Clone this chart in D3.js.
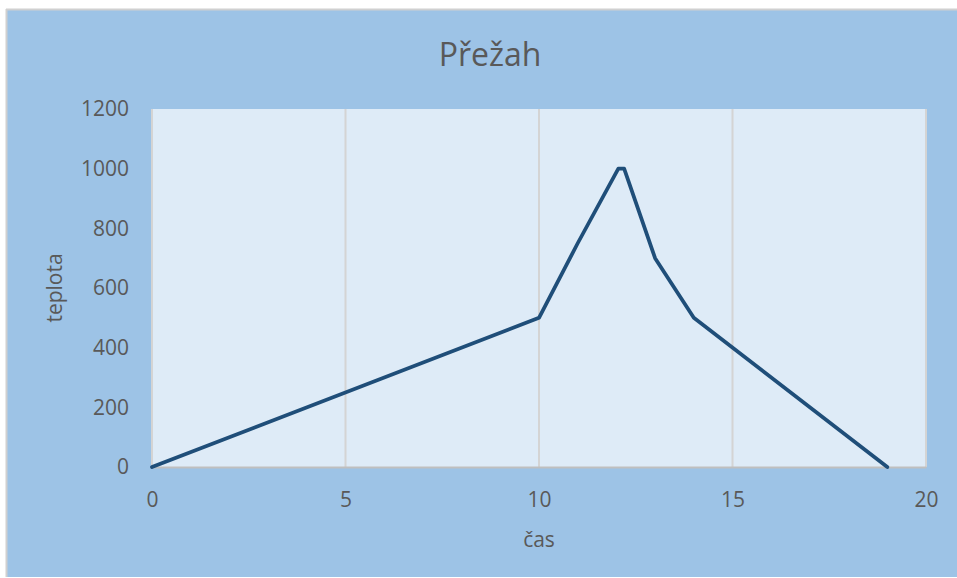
<!doctype html>
<html lang="cs">
<head>
    <meta charset="UTF-8">
    <title>Přežah</title>
    <style>
        body { margin: 0; background: #ffffff; }
        text { font-family: "Open Sans", sans-serif; fill: #595959; }
    </style>
</head>
<body>
<div class="chart"></div>

<script src="https://cdn.jsdelivr.net/npm/d3@7"></script>
<script>
	// data
	const cas = [0, 10, 11, 12.05, 12.2, 13, 14, 19]
	const teplota = [0, 500, 750, 1000, 1000, 700, 500, 0]
	const xTicks = [0, 5, 10, 15, 20]
	const yTicks = [0, 200, 400, 600, 800, 1000, 1200]

	const dimensions = {
		width: 957,
		height: 578,
		left: 152,
		right: 926,
		top: 109,
		bottom: 467
	}

	const dataset = cas.map((c, i) => ({ x: c, y: teplota[i] }))

	const svg = d3.select('.chart')
		.append('svg')
		.attr('width', dimensions.width)
		.attr('height', dimensions.height)

	// chart area
	svg.append('rect')
		.attr('x', 7)
		.attr('y', 10)
		.attr('width', dimensions.width - 7)
		.attr('height', 567)
		.attr('fill', '#9dc3e6')
	svg.append('line')
		.attr('x1', 6).attr('x2', dimensions.width)
		.attr('y1', 9.5).attr('y2', 9.5)
		.attr('stroke', '#d0d0d0')
		.attr('stroke-width', 2)
	svg.append('line')
		.attr('x1', 6.5).attr('x2', 6.5)
		.attr('y1', 9).attr('y2', 577)
		.attr('stroke', '#d0d0d0')
		.attr('stroke-width', 2)

	// plot area
	svg.append('rect')
		.attr('x', dimensions.left)
		.attr('y', dimensions.top)
		.attr('width', dimensions.right - dimensions.left)
		.attr('height', dimensions.bottom - dimensions.top)
		.attr('fill', '#deebf7')

	const xScale = d3.scaleLinear()
		.domain([0, 20])
		.range([dimensions.left, dimensions.right])
	const yScale = d3.scaleLinear()
		.domain([0, 1200])
		.range([dimensions.bottom, dimensions.top])

	// vertical gridlines
	svg.append('g')
		.selectAll('line')
		.data(xTicks)
		.enter().append('line')
		.attr('x1', d => xScale(d))
		.attr('x2', d => xScale(d))
		.attr('y1', dimensions.top)
		.attr('y2', dimensions.bottom)
		.attr('stroke', '#d4d4d4')
		.attr('stroke-width', 2)

	// X axis
	const xAxis = d3.axisBottom(xScale)
		.tickValues(xTicks)
		.tickFormat(d3.format('d'))
		.tickSize(0)
		.tickPadding(25)
	const gx = svg.append('g')
		.attr('transform', 'translate(0,' + dimensions.bottom + ')')
		.call(xAxis)
	gx.select('.domain')
		.attr('stroke', '#bfbfbf')
		.attr('stroke-width', 2)
	gx.selectAll('text')
		.style('font-size', '21px')
		.style('font-family', '"Open Sans", sans-serif')
		.attr('fill', '#595959')

	// Y axis
	const yAxis = d3.axisLeft(yScale)
		.tickValues(yTicks)
		.tickFormat(d3.format('d'))
		.tickSize(0)
		.tickPadding(23)
	const gy = svg.append('g')
		.attr('transform', 'translate(' + dimensions.left + ',0)')
		.call(yAxis)
	gy.select('.domain').remove()
	gy.selectAll('text')
		.style('font-size', '21px')
		.style('font-family', '"Open Sans", sans-serif')
		.attr('fill', '#595959')

	// line
	const line = d3.line()
		.x(d => xScale(d.x))
		.y(d => yScale(d.y))
	svg.append('path')
		.datum(dataset)
		.attr('d', line)
		.attr('fill', 'none')
		.attr('stroke', '#1f4e79')
		.attr('stroke-width', 3.75)
		.attr('stroke-linejoin', 'round')
		.attr('stroke-linecap', 'round')

	// titles
	svg.append('text')
		.attr('x', 490)
		.attr('y', 66)
		.attr('text-anchor', 'middle')
		.style('font-size', '32px')
		.text('Přežah')
	svg.append('text')
		.attr('x', 539)
		.attr('y', 547)
		.attr('text-anchor', 'middle')
		.style('font-size', '21px')
		.text('čas')
	svg.append('text')
		.attr('transform', 'translate(62,288) rotate(-90)')
		.attr('text-anchor', 'middle')
		.style('font-size', '21px')
		.text('teplota')
</script>
</body>
</html>
